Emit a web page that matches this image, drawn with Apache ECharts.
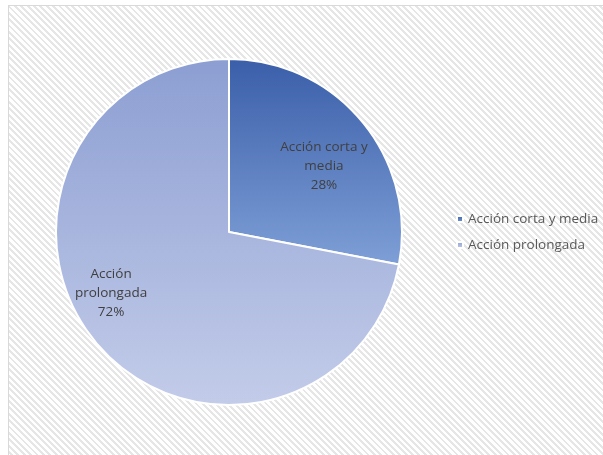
<!DOCTYPE html>
<html>
<head>
<meta charset="utf-8">
<script src="https://cdn.jsdelivr.net/npm/echarts@6/dist/echarts.min.js"></script>
<style>
  html, body { margin: 0; padding: 0; background: #fff; }
  #frame {
    position: absolute; left: 8px; top: 5px; width: 620px; height: 470px;
    border: 1px solid #d9d9d9;
    background: repeating-linear-gradient(45deg, #ffffff 0px, #ffffff 2.5px, #e6e6e6 2.5px, #e6e6e6 4.5px);
  }
  #chart { position: absolute; left: 0; top: 0; width: 603px; height: 455px; }
</style>
</head>
<body>
<div id="frame"></div>
<div id="chart"></div>
<script>
// categories and shares (percent)
const categories = ['Acción corta y media', 'Acción prolongada']
const labelText = ['Acción corta y\nmedia', 'Acción\nprolongada']
const shares = [28, 72]

const gradients = [
  ['#3a5ea9', '#7e9fd6'],
  ['#8c9ed2', '#c3cce9']
]
const labelShift = [[26, -9], [-49, 4]]

const myChart = echarts.init(document.getElementById('chart'))
myChart.setOption({
  animation: false,
  legend: {
    orient: 'vertical',
    left: 451,
    top: 207,
    itemWidth: 6,
    itemHeight: 6,
    itemGap: 12,
    icon: 'rect',
    textStyle: { fontFamily: 'Open Sans', fontSize: 13.5, color: '#595959' },
    data: categories
  },
  series: [{
    type: 'pie',
    center: [229, 232],
    radius: [0, 173],
    startAngle: 90,
    clockwise: true,
    itemStyle: { borderColor: '#ffffff', borderWidth: 2 },
    label: {
      show: true,
      position: 'inside',
      fontFamily: 'Open Sans',
      fontSize: 13.5,
      lineHeight: 19,
      color: '#404040',
      formatter: p => labelText[p.dataIndex] + '\n' + p.value + '%'
    },
    labelLayout: p => ({ dx: labelShift[p.dataIndex][0], dy: labelShift[p.dataIndex][1] }),
    data: categories.map((name, i) => ({
      name,
      value: shares[i],
      itemStyle: {
        color: new echarts.graphic.LinearGradient(0, 0, 0, 1, [
          { offset: 0, color: gradients[i][0] },
          { offset: 1, color: gradients[i][1] }
        ])
      }
    }))
  }]
})
</script>
</body>
</html>
